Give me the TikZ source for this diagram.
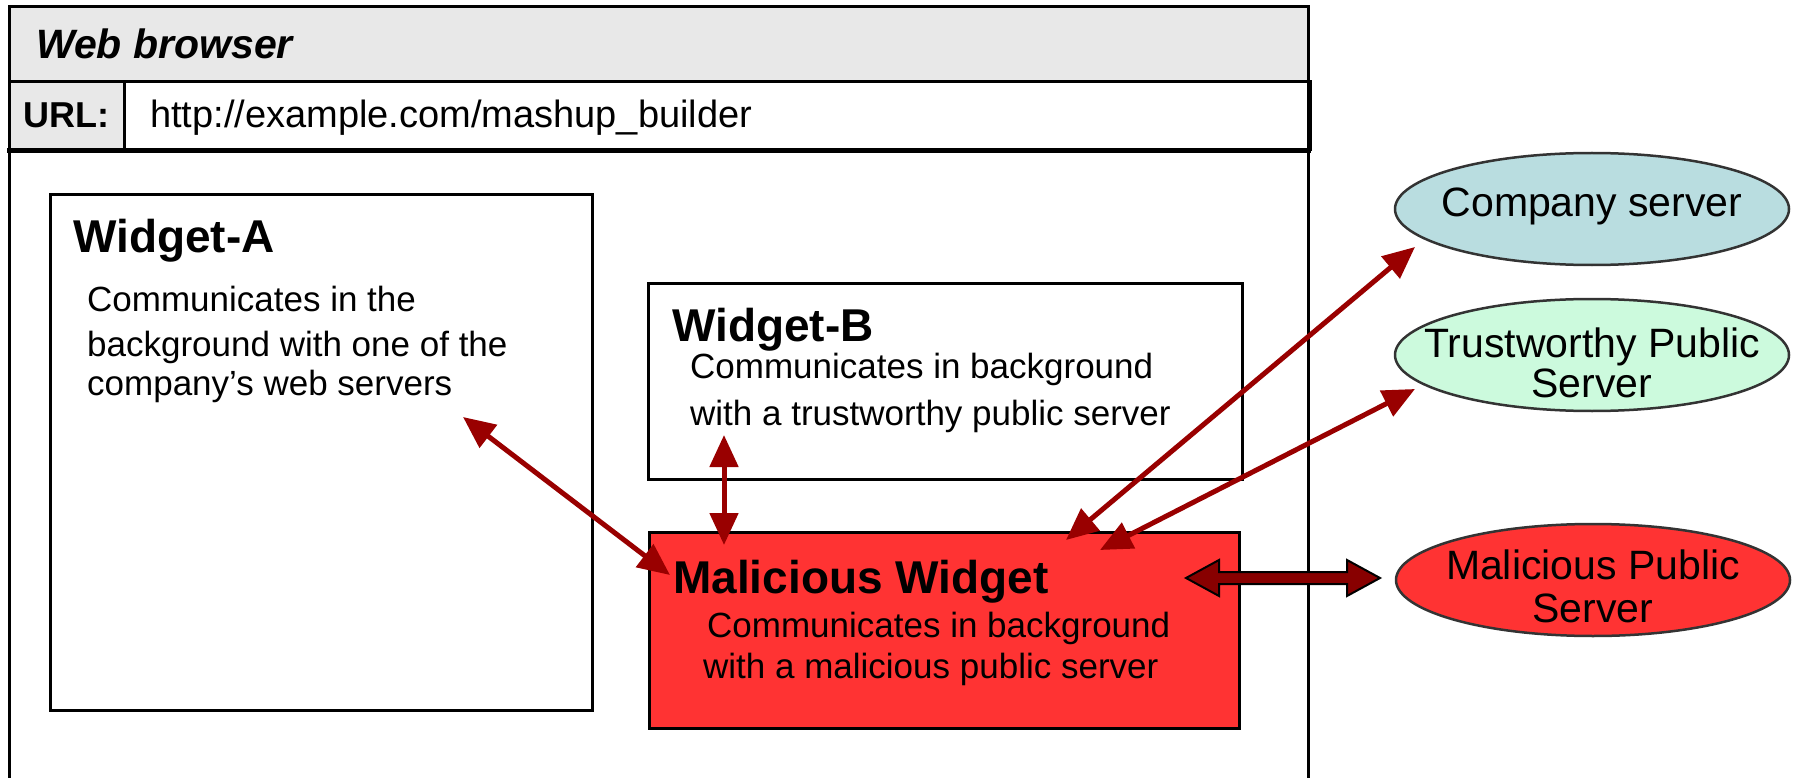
\documentclass[tikz,border=0pt]{standalone}
\usepackage{fontspec}
\setmainfont{Liberation Sans}
\usetikzlibrary{shapes.geometric,arrows.meta}
\definecolor{bargray}{HTML}{E8E8E8}
\definecolor{widgetred}{HTML}{FF3333}
\definecolor{arrowred}{HTML}{990000}
\definecolor{darkarrow}{HTML}{880000}
\definecolor{companyblue}{HTML}{B9DDE0}
\definecolor{trustgreen}{HTML}{CCFADD}
\definecolor{ellborder}{HTML}{333333}
\tikzset{
  frameline/.style={line width=3pt, black},
  widgetbox/.style={draw=black, line width=3pt, anchor=north west, inner sep=0pt, outer sep=0pt},
  wtitle/.style={anchor=base west, inner sep=0pt, font=\fontsize{46}{52}\selectfont\bfseries},
  wbody/.style={anchor=base west, inner sep=0pt, font=\fontsize{35}{42}\selectfont},
  server/.style={ellipse, draw=ellborder, line width=2.5pt, minimum width=394pt, minimum height=112pt, inner sep=0pt},
  stext/.style={anchor=base, inner sep=0pt, font=\fontsize{41}{42}\selectfont},
  arr/.style={draw=arrowred, line width=5pt, {Triangle[length=32pt,width=28pt]}-{Triangle[length=32pt,width=28pt]}},
}
\begin{document}
\begin{tikzpicture}[x=1pt,y=-1pt]
\useasboundingbox (0,0) rectangle (1794,778);
\clip (0,0) rectangle (1794,778);
% browser frame
\fill[bargray] (9,7) rectangle (1308,82);
\fill[bargray] (9,82) rectangle (124,151);
\draw[frameline] (9,800) -- (9,7) -- (1308,7) -- (1308,800);
\draw[frameline] (9,82) -- (1310,82) -- (1310,151);
\draw[frameline] (124,82) -- (124,151);
\draw[line width=5pt] (7,151) -- (1311,151);
\node[anchor=base west, inner sep=0pt, font=\fontsize{41}{48}\selectfont\bfseries\itshape] (title) at (36,59) {Web browser};
\node[anchor=base west, inner sep=0pt, font=\fontsize{36}{42}\selectfont\bfseries] (urllabel) at (23,128) {URL:};
\node[anchor=base west, inner sep=0pt, font=\fontsize{38}{44}\selectfont] (url) at (150,128) {http://example.com/mashup\_builder};
% widgets
\node[widgetbox, minimum width=542pt, minimum height=515pt] (wa) at (50,195) {};
\node[widgetbox, minimum width=594pt, minimum height=196pt] (wb) at (648,283) {};
\node[widgetbox, fill=widgetred, minimum width=590pt, minimum height=196pt] (wm) at (649,532) {};
\node[wtitle] (watitle) at (73,252) {Widget-A};
\node[wbody] (wa1) at (87,311) {Communicates in the};
\node[wbody] (wa2) at (87,356) {background with one of the};
\node[wbody] (wa3) at (87,395) {company’s web servers};
\node[wtitle] (wbtitle) at (672,341) {Widget-B};
\node[wbody] (wb1) at (690,378) {Communicates in background};
\node[wbody] (wb2) at (690,425) {with a trustworthy public server};
\node[wtitle] (wmtitle) at (673,593) {Malicious Widget};
\node[wbody] (wm1) at (707,637) {Communicates in background};
\node[wbody] (wm2) at (703,678) {with a malicious public server};
% servers
\node[server, fill=companyblue] (cs) at (1592,209) {};
\node[server, fill=trustgreen] (ts) at (1592,355) {};
\node[server, fill=widgetred] (ms) at (1593,580) {};
\node[stext] (cst) at (1592,217) {Company server};
\node[stext] (tst1) at (1592,357) {Trustworthy Public};
\node[stext] (tst2) at (1592,397) {Server};
\node[stext] (mst1) at (1593,579) {Malicious Public};
\node[stext] (mst2) at (1593,622) {Server};
% arrows
\coordinate (aA) at (463,417);
\coordinate (aM) at (670,575);
\coordinate (bB) at (724,435);
\coordinate (bM) at (724,545);
\coordinate (cM) at (1066,540);
\coordinate (cS) at (1415,247);
\coordinate (tM) at (1100,550);
\coordinate (tS) at (1415,389);
\draw[arr] (aA) -- (aM);
\draw[arr] (bB) -- (bM);
\draw[arr] (cM) -- (cS);
\draw[arr] (tM) -- (tS);
% malicious block arrow
\coordinate (mL) at (1186,578);
\coordinate (mR) at (1380,578);
\draw[line width=2pt, fill=darkarrow, line join=miter]
  (mL) -- ++(33,-18) -- ++(0,12) -- ++(128,0) -- ++(0,-12) -- (mR)
  -- ++(-33,18) -- ++(0,-12) -- ++(-128,0) -- ++(0,12) -- cycle;
\end{tikzpicture}
\end{document}
